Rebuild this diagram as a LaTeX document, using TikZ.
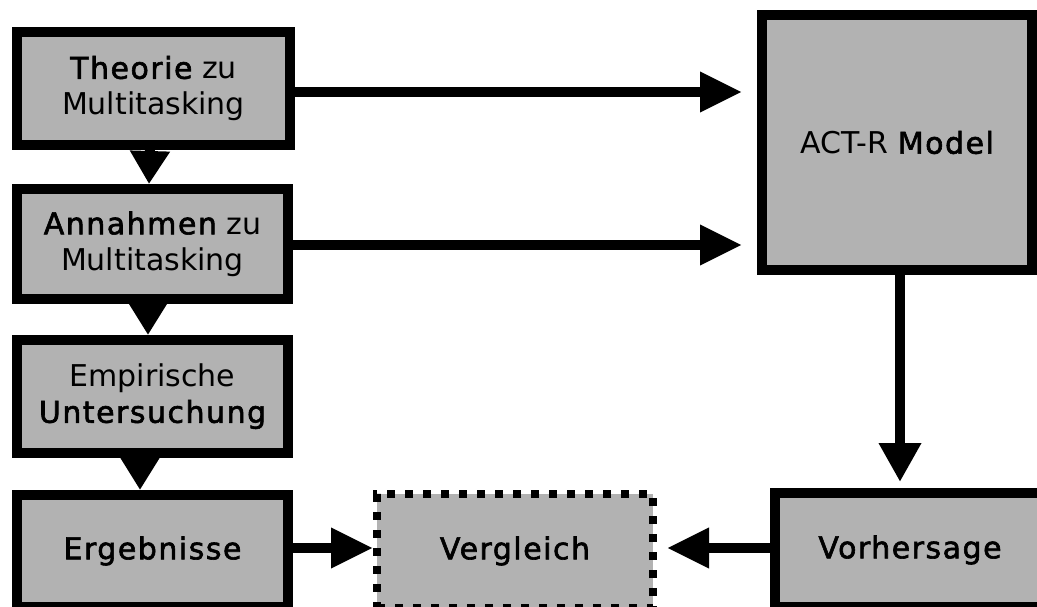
\documentclass[tikz,border=0pt]{standalone}
\usepackage{fontspec}
\setmainfont{DejaVu Sans}
\newfontface\medfont[FakeBold=2,LetterSpace=5]{DejaVu Sans}
\newcommand{\hv}[1]{{\medfont #1}}
\usetikzlibrary{arrows.meta,calc}
\definecolor{boxgray}{RGB}{178,178,178}
\begin{document}
\begin{tikzpicture}[x=1pt,y=-1pt,
  box/.style={draw=black,line width=10pt,fill=boxgray,inner sep=0pt,align=center,
    font=\fontsize{30}{36}\selectfont,text=black},
  dotbox/.style={box,line width=8pt,dash pattern=on 8pt off 10pt},
  conn/.style={draw=black,line width=10pt},
  htip/.style={-{Triangle[length=42pt,width=38pt]}},
  vtip/.style={-{Triangle[length=39pt,width=40pt]}},
  gtip/.style={-{Triangle[length=33pt,width=38pt]}}]
\clip (0,0) rectangle (1037,607);
\fill[white] (0,0) rectangle (1037,607);
% left column
\node[box,minimum width=273pt,minimum height=113pt] (t) at (153.5,88.5) {\hv{Theorie} zu\\Multitasking};
\node[box,minimum width=271pt,minimum height=110pt] (a) at (152.5,244) {\hv{Annahmen} zu\\Multitasking};
\node[box,minimum width=271pt,minimum height=113pt] (u) at (152.5,396.5) {Empirische\\\hv{Untersuchung}};
\node[box,minimum width=271pt,minimum height=112pt] (e) at (152.5,551) {\hv{Ergebnisse}};
% bottom and right
\node[dotbox,minimum width=276pt,minimum height=114pt] (v) at (515,551) {\hv{Vergleich}};
\node[box,minimum width=270pt,minimum height=114pt] (vor) at (910,550) {\hv{Vorhersage}};
\node[box,minimum width=270pt,minimum height=255pt] (act) at (897,142.5) {ACT-R \hv{Model}};
% helper coordinates
\coordinate (r1) at (0,92);
\coordinate (r2) at (0,245);
\coordinate (r3) at (0,548);
\coordinate (c1) at (900,0);
% vertical triangles between left boxes
\draw[conn,gtip] ($(t.south)+(-3.5,0)$) -- ($(a.north)+(-3.5,0)$);
\draw[conn,gtip] ($(a.south)+(-4.5,0)$) -- ($(u.north)+(-4.5,0)$);
\draw[conn,gtip] ($(u.south)+(-12.5,0)$) -- ($(e.north)+(-12.5,0)$);
% horizontal arrows to model
\draw[conn,htip,shorten >=15pt] (t.east |- r1) -- (act.west |- r1);
\draw[conn,htip,shorten >=15pt] (a.east |- r2) -- (act.west |- r2);
% model to prediction
\draw[conn,vtip,shorten >=6pt] (act.south -| c1) -- (vor.north -| c1);
% into comparison
\draw[conn,htip] (e.east |- r3) -- (v.west |- r3);
\draw[conn,htip,shorten >=10pt] (vor.west |- r3) -- (v.east |- r3);
\end{tikzpicture}
\end{document}
